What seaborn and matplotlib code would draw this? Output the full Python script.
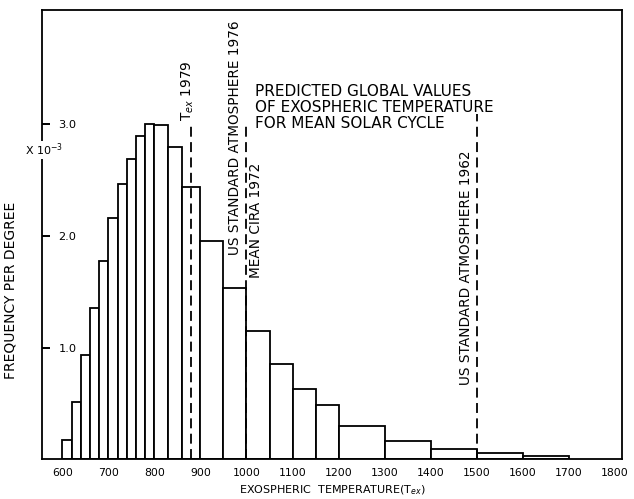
import matplotlib
matplotlib.use("Agg")
import matplotlib.pyplot as plt
import seaborn as sns
import pandas as pd

# Histogram of predicted exospheric temperature (frequency per degree, x 10^-3)
bin_edges = [600, 620, 640, 660, 680, 700, 720, 740, 760, 780, 800, 830, 860,
             900, 950, 1000, 1050, 1100, 1150, 1200, 1300, 1400, 1500, 1600, 1700]
frequency = [0.17, 0.51, 0.93, 1.35, 1.77, 2.16, 2.46, 2.69, 2.89, 3.00,
             2.99, 2.79, 2.44, 1.95, 1.53, 1.15, 0.85, 0.63, 0.485, 0.30,
             0.167, 0.09, 0.055, 0.025]

x_ticks = [600, 700, 800, 900, 1000, 1100, 1200, 1300, 1400, 1500, 1600, 1700, 1800]
y_ticks = [1.0, 2.0, 3.0]

# Reference model temperatures
ref_names = ["T$_{ex}$ 1979", "US STANDARD ATMOSPHERE 1976", "MEAN CIRA 1972",
             "US STANDARD ATMOSPHERE 1962"]
ref_temps = [880, 1000, 1000, 1500]

sns.set_style("white")
plt.rcParams["font.family"] = ["DejaVu Sans"]
plt.rcParams["text.color"] = "black"
plt.rcParams["axes.labelcolor"] = "black"
plt.rcParams["xtick.color"] = "black"
plt.rcParams["ytick.color"] = "black"
plt.rcParams["axes.axisbelow"] = False

fig = plt.figure(figsize=(6.34, 4.99), dpi=100)
ax = fig.add_axes([0.0658, 0.0796, 0.916, 0.9004])

mids = [(a + b) / 2 for a, b in zip(bin_edges[:-1], bin_edges[1:])]
df = pd.DataFrame({"temp": mids, "freq": frequency})
sns.histplot(data=df, x="temp", weights="freq", bins=list(bin_edges),
             stat="count", color="white", edgecolor="black", linewidth=1.3,
             alpha=1, ax=ax)

ax.set_xlim(555, 1817)
ax.set_ylim(0, 4.02)

# dashed reference lines
dash = dict(color="black", linestyle=(0, (5.5, 3)), linewidth=1.3)
ax.plot([ref_temps[0]] * 2, [0, 3.01], **dash)
ax.plot([ref_temps[1]] * 2, [0, 3.00], **dash)
ax.plot([ref_temps[3]] * 2, [0, 3.09], **dash)

lab = dict(rotation=90, ha="center", va="center", fontsize=9.8)
ax.text(872, 3.30, ref_names[0], **lab)
ax.text(974, 2.875, ref_names[1], **lab)
ax.text(1021, 2.14, ref_names[2], **lab)
ax.text(1477, 1.71, ref_names[3], **lab)

ax.text(1018, 3.15,
        "PREDICTED GLOBAL VALUES\nOF EXOSPHERIC TEMPERATURE\nFOR MEAN SOLAR CYCLE",
        ha="left", va="center", fontsize=11, linespacing=1.1)

# axes styling
for s in ax.spines.values():
    s.set_visible(True)
    s.set_color("black")
    s.set_linewidth(1.3)

ax.set_xticks(x_ticks)
ax.set_xticklabels([str(t) for t in x_ticks], fontsize=7.8)
ax.tick_params(axis="x", length=0, pad=6)

ax.set_yticks(y_ticks)
ax.set_yticklabels([f"{t:.1f}" for t in y_ticks], fontsize=8.2)
ax.tick_params(axis="y", which="major", left=True, direction="in",
               length=6, width=1.4, color="black", pad=-12)
for t in ax.get_yticklabels():
    t.set_horizontalalignment("left")

ax.set_xlabel("EXOSPHERIC  TEMPERATURE(T$_{ex}$)", fontsize=8)
ax.xaxis.set_label_coords(0.5, -0.054)
ax.set_ylabel("FREQUENCY PER DEGREE", fontsize=10)
ax.yaxis.set_label_coords(-0.041, 0.377)

fig.text(25 / 634, 1 - 150 / 499, r"X 10$^{-3}$", fontsize=8, ha="left",
         va="center", bbox=dict(facecolor="white", edgecolor="none", pad=0.5))

fig.savefig("out.png", dpi=100, facecolor="white")
